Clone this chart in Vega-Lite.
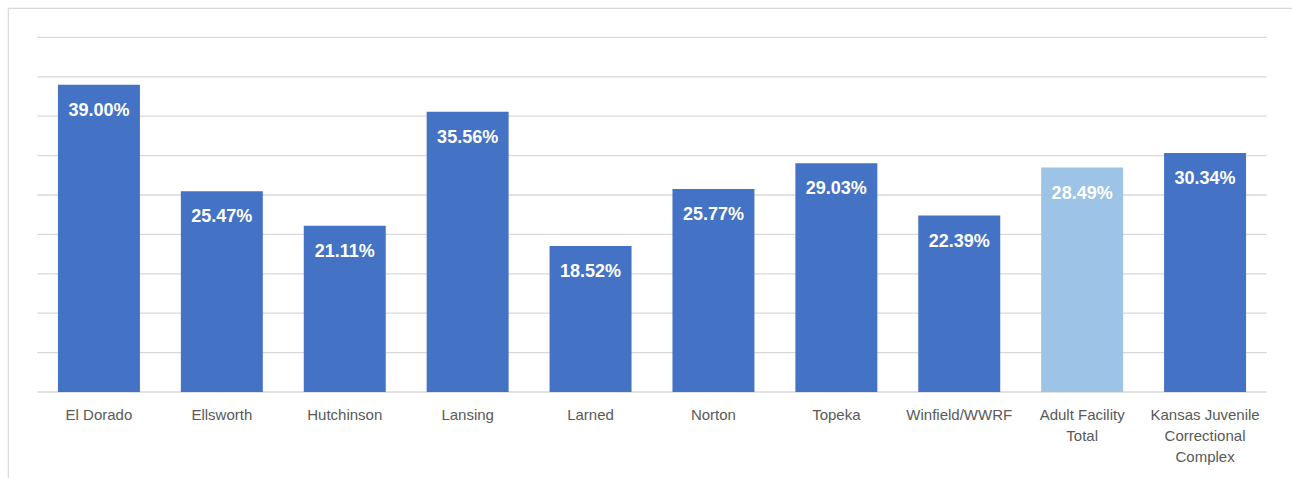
{
  "$schema": "https://vega.github.io/schema/vega-lite/v6.json",
  "width": 1288,
  "height": 480,
  "autosize": {"type": "none"},
  "padding": {"left": 8, "top": 8, "right": 0, "bottom": 0},
  "background": "white",
  "config": {
    "view": {"stroke": "#d9d9d9", "strokeWidth": 1.2},
    "font": "Liberation Sans"
  },
  "data": {
    "values": [
      {"facility": "El Dorado", "rate": 0.39, "group": "Facility"},
      {"facility": "Ellsworth", "rate": 0.2547, "group": "Facility"},
      {"facility": "Hutchinson", "rate": 0.2111, "group": "Facility"},
      {"facility": "Lansing", "rate": 0.3556, "group": "Facility"},
      {"facility": "Larned", "rate": 0.1852, "group": "Facility"},
      {"facility": "Norton", "rate": 0.2577, "group": "Facility"},
      {"facility": "Topeka", "rate": 0.2903, "group": "Facility"},
      {"facility": "Winfield/WWRF", "rate": 0.2239, "group": "Facility"},
      {"facility": "Adult Facility Total", "rate": 0.2849, "group": "Total"},
      {"facility": "Kansas Juvenile Correctional Complex", "rate": 0.3034, "group": "Facility"}
    ]
  },
  "layer": [
    {
      "data": {"values": [
        {"level": 0}, {"level": 0.05}, {"level": 0.1}, {"level": 0.15}, {"level": 0.2},
        {"level": 0.25}, {"level": 0.3}, {"level": 0.35}, {"level": 0.4}, {"level": 0.45}
      ]},
      "mark": {"type": "rule", "color": "#d9d9d9", "strokeWidth": 1.3},
      "encoding": {
        "y": {"field": "level", "type": "quantitative", "scale": {"domain": [-0.1218, 0.4873], "nice": false, "zero": false}, "axis": null},
        "x": {"datum": 0, "type": "quantitative", "scale": {"domain": [-0.02383, 1.02383], "nice": false, "zero": false}, "axis": null},
        "x2": {"datum": 1}
      }
    },
    {
      "encoding": {
        "x": {
          "field": "facility", "type": "nominal", "sort": null,
          "scale": {"paddingInner": 0.333, "paddingOuter": 0.4065},
          "axis": {
            "title": null, "orient": "bottom", "offset": -96,
            "domain": false, "ticks": false, "labelAngle": 0,
            "labelPadding": 15, "labelFontSize": 15, "labelColor": "#595959",
            "labelLineHeight": 21, "labelFont": "Liberation Sans",
            "labelExpr": "datum.value == 'Adult Facility Total' ? ['Adult Facility', 'Total'] : datum.value == 'Kansas Juvenile Correctional Complex' ? ['Kansas Juvenile', 'Correctional', 'Complex'] : datum.label"
          }
        },
        "y": {"field": "rate", "type": "quantitative", "axis": null}
      },
      "layer": [
        {
          "mark": {"type": "bar"},
          "encoding": {
            "color": {
              "field": "group", "type": "nominal",
              "scale": {"domain": ["Facility", "Total"], "range": ["#4472C4", "#9DC3E6"]},
              "legend": null
            }
          }
        },
        {
          "mark": {"type": "text", "color": "white", "fontWeight": "bold", "fontSize": 18, "baseline": "alphabetic", "dy": 31, "font": "Liberation Sans"},
          "encoding": {
            "text": {"field": "rate", "type": "quantitative", "format": ".2%"}
          }
        }
      ]
    }
  ],
  "resolve": {"scale": {"x": "independent"}}
}
